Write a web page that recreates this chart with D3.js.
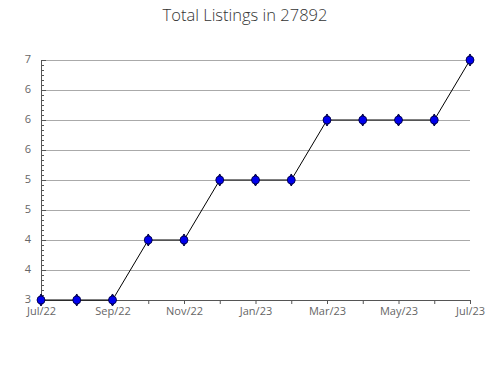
<!DOCTYPE html>
<html>
<head>
<meta charset="utf-8">
<script src="https://cdn.jsdelivr.net/npm/d3@7"></script>
<style>
    body { margin: 0; background: #fff; }
    text { font-family: "Open Sans", sans-serif; }
</style>
</head>
<body>
<div id="chart"></div>
<script>
    // data
    const months = ['Jul/22', 'Aug/22', 'Sep/22', 'Oct/22', 'Nov/22', 'Dec/22', 'Jan/23',
        'Feb/23', 'Mar/23', 'Apr/23', 'May/23', 'Jun/23', 'Jul/23'];
    const listings = [3, 3, 3, 4, 4, 5, 5, 5, 6, 6, 6, 6, 7];
    const yTickValues = [3, 3.5, 4, 4.5, 5, 5.5, 6, 6.5, 7];
    const yTickLabels = ['3', '4', '4', '5', '5', '6', '6', '6', '7'];

    const width = 490, height = 380;
    const margin = {top: 60, right: 20, bottom: 80, left: 41};

    const svg = d3.select('#chart')
        .append('svg')
        .attr('width', width)
        .attr('height', height);

    //title
    svg.append('text')
        .attr('x', 245)
        .attr('y', 21)
        .attr('text-anchor', 'middle')
        .attr('font-size', 16.5)
        .attr('font-weight', 300)
        .attr('fill', '#333')
        .text('Total Listings in 27892');

    const xScale = d3.scalePoint()
        .domain(months)
        .range([margin.left, width - margin.right]);

    const yScale = d3.scaleLinear()
        .domain([3, 7])
        .range([height - margin.bottom, margin.top]);

    //grid lines
    svg.append('g')
        .selectAll('line')
        .data(yTickValues.slice(1))
        .enter()
        .append('line')
        .attr('x1', margin.left)
        .attr('x2', width - margin.right)
        .attr('y1', d => yScale(d) + 0.5)
        .attr('y2', d => yScale(d) + 0.5)
        .attr('stroke', '#aaa')
        .attr('stroke-width', 1);

    //minor ticks on y axis
    const minor = d3.range(0, 49).map(i => 3 + i * (0.5 / 6));
    svg.append('g')
        .selectAll('line')
        .data(minor)
        .enter()
        .append('line')
        .attr('x1', margin.left)
        .attr('x2', margin.left + 3)
        .attr('y1', d => Math.round(yScale(d)) + 0.5)
        .attr('y2', d => Math.round(yScale(d)) + 0.5)
        .attr('stroke', '#555');

    //y axis
    const yAxis = d3.axisRight(yScale)
        .tickValues(yTickValues)
        .tickSize(5)
        .tickFormat((d, i) => yTickLabels[i]);

    const yAxisG = svg.append('g')
        .attr('transform', `translate(${margin.left},0)`)
        .call(yAxis);
    yAxisG.select('.domain').attr('stroke', '#555');
    yAxisG.selectAll('.tick line').attr('stroke', '#555');
    yAxisG.selectAll('.tick text')
        .attr('x', -10)
        .attr('dy', '0.2em')
        .attr('text-anchor', 'end')
        .attr('fill', '#666')
        .attr('font-size', 11)
        .attr('font-family', '"Open Sans", sans-serif');

    //x axis
    const xAxis = d3.axisBottom(xScale)
        .tickSize(4)
        .tickSizeOuter(0)
        .tickFormat((d, i) => i % 2 === 0 ? d : '');

    const xAxisG = svg.append('g')
        .attr('transform', `translate(0,${height - margin.bottom})`)
        .call(xAxis);
    xAxisG.select('.domain').attr('stroke', '#555');
    xAxisG.selectAll('.tick line').attr('stroke', '#555');
    xAxisG.selectAll('.tick text')
        .attr('y', 7)
        .attr('fill', '#666')
        .attr('font-size', 11)
        .attr('font-family', '"Open Sans", sans-serif');

    //line
    svg.append('path')
        .datum(listings)
        .attr('fill', 'none')
        .attr('stroke', '#000')
        .attr('stroke-width', 1)
        .attr('d', d3.line()
            .x((d, i) => xScale(months[i]))
            .y(d => yScale(d)));

    //markers
    const pts = svg.append('g')
        .selectAll('g')
        .data(listings)
        .enter()
        .append('g')
        .attr('transform', (d, i) => `translate(${xScale(months[i])},${yScale(d)})`);

    pts.append('path')
        .attr('d', d3.symbol().type(d3.symbolDiamond).size(42))
        .attr('fill', '#0000ee')
        .attr('stroke', '#000033')
        .attr('stroke-width', 1);
    pts.append('circle')
        .attr('r', 4)
        .attr('fill', '#0000ee')
        .attr('stroke', '#000033')
        .attr('stroke-width', 0.8);
</script>
</body>
</html>
